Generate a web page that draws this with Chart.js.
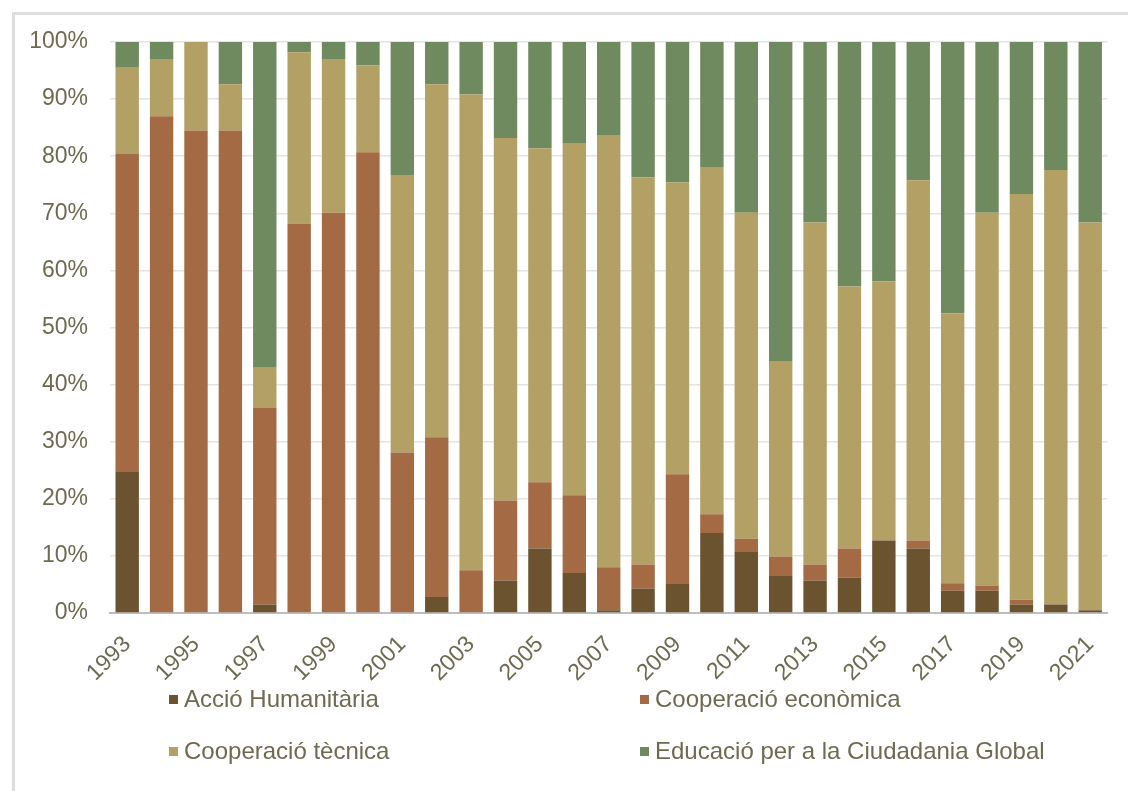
<!DOCTYPE html>
<html>
<head>
<meta charset="utf-8">
<script src="https://cdn.jsdelivr.net/npm/chart.js@4/dist/chart.umd.min.js"></script>
<style>
  body { margin: 0; background: #fff; }
  #wrap { position: relative; width: 1128px; height: 791px; overflow: hidden; }
  #frame { position: absolute; left: 12px; top: 12px; width: 1130px; height: 800px;
           border-left: 3px solid #dedede; border-top: 3px solid #dedede; box-sizing: border-box; }
  canvas { position: absolute; left: 0; top: 0; }
  .lg { position: absolute; font-family: "Liberation Sans", Arial, sans-serif; font-size: 24px;
        color: #6e6a52; line-height: 28px; white-space: nowrap; }
  .lg span { display: inline-block; width: 9px; height: 9px; margin-right: 6px; vertical-align: 3px; }
</style>
</head>
<body>
<div id="wrap">
  <div id="frame"></div>
  <canvas id="myChart" width="1128" height="791"></canvas>
  <div id="legend"></div>
</div>
<script>
// years
const years = [];
for (let y = 1993; y <= 2021; y++) years.push(String(y));

// shares per year (%)
const humanitaria = [24.7, 0, 0, 0, 1.5, 0, 0, 0, 0, 2.8, 0, 5.7, 11.3, 7.0, 0.5, 4.3, 5.2, 14.0, 10.8, 6.6, 5.7, 6.2, 12.7, 11.3, 3.9, 3.9, 1.5, 1.5, 0.5];
const economica   = [55.7, 87.0, 84.5, 84.5, 34.4, 68.2, 70.1, 80.7, 28.1, 28.0, 7.5, 14.0, 11.6, 13.6, 7.5, 4.2, 19.1, 3.3, 2.2, 3.3, 2.8, 5.1, 0, 1.4, 1.3, 0.9, 0.8, 0, 0];
const tecnica     = [15.1, 9.9, 15.5, 8.1, 7.2, 30.0, 26.8, 15.2, 48.6, 61.8, 83.3, 63.5, 58.5, 61.7, 75.7, 67.8, 51.1, 60.8, 57.1, 34.1, 59.9, 45.9, 45.4, 63.1, 47.3, 65.3, 71.1, 76.1, 67.9];
const educacio    = [4.5, 3.1, 0, 7.4, 56.9, 1.8, 3.1, 4.1, 23.3, 7.4, 9.2, 16.8, 18.6, 17.7, 16.3, 23.7, 24.6, 21.9, 29.9, 56.0, 31.6, 42.8, 41.9, 24.2, 47.5, 29.9, 26.6, 22.4, 31.6];

const seriesNames = ['Acció Humanitària', 'Cooperació econòmica', 'Cooperació tècnica', 'Educació per a la Ciudadania Global'];
const colors = ['#6b5330', '#a36a43', '#b3a064', '#6e8a5e'];
const yTicks = [0, 10, 20, 30, 40, 50, 60, 70, 80, 90, 100];

const txt = '#6e6a52';
const fam = '"Liberation Sans", Arial, sans-serif';

const allSeries = [humanitaria, economica, tecnica, educacio];
const datasets = allSeries.map(function (d, i) {
  return {
    label: seriesNames[i],
    data: d,
    backgroundColor: colors[i],
    borderWidth: 0,
    barPercentage: 0.68,
    categoryPercentage: 1.0
  };
});

const myChart = new Chart(document.getElementById('myChart'), {
  type: 'bar',
  data: { labels: years, datasets: datasets },
  options: {
    responsive: false,
    animation: false,
    layout: { padding: { left: 0, right: 15, top: 42, bottom: 0 } },
    plugins: { legend: { display: false }, tooltip: { enabled: false } },
    scales: {
      x: {
        stacked: true,
        grid: { display: false, drawTicks: false },
        border: { display: true, color: '#bdbdbd', width: 2 },
        ticks: {
          autoSkip: false,
          minRotation: 45,
          maxRotation: 45,
          padding: 18,
          color: txt,
          font: { family: fam, size: 23 },
          callback: function (v, i) { return i % 2 === 0 ? years[i] : ''; }
        },
        afterFit: function (s) { s.height = 178; }
      },
      y: {
        stacked: true,
        min: 0,
        max: 100,
        afterBuildTicks: function (s) { s.ticks = yTicks.map(function (v) { return { value: v }; }); },
        grid: { color: '#e4e4e4', lineWidth: 1.5, drawTicks: false },
        border: { display: false },
        ticks: {
          padding: 22,
          color: txt,
          font: { family: fam, size: 23 },
          callback: function (v) { return v + '%'; }
        },
        afterFit: function (s) { s.width = 110; }
      }
    }
  }
});

// legend in two columns
const legendPos = [[169, 685], [640, 685], [169, 737], [640, 737]];
const lg = document.getElementById('legend');
seriesNames.forEach(function (n, i) {
  const d = document.createElement('div');
  d.className = 'lg';
  d.style.left = legendPos[i][0] + 'px';
  d.style.top = legendPos[i][1] + 'px';
  d.innerHTML = '<span style="background:' + colors[i] + '"></span>' + n;
  lg.appendChild(d);
});
</script>
</body>
</html>
